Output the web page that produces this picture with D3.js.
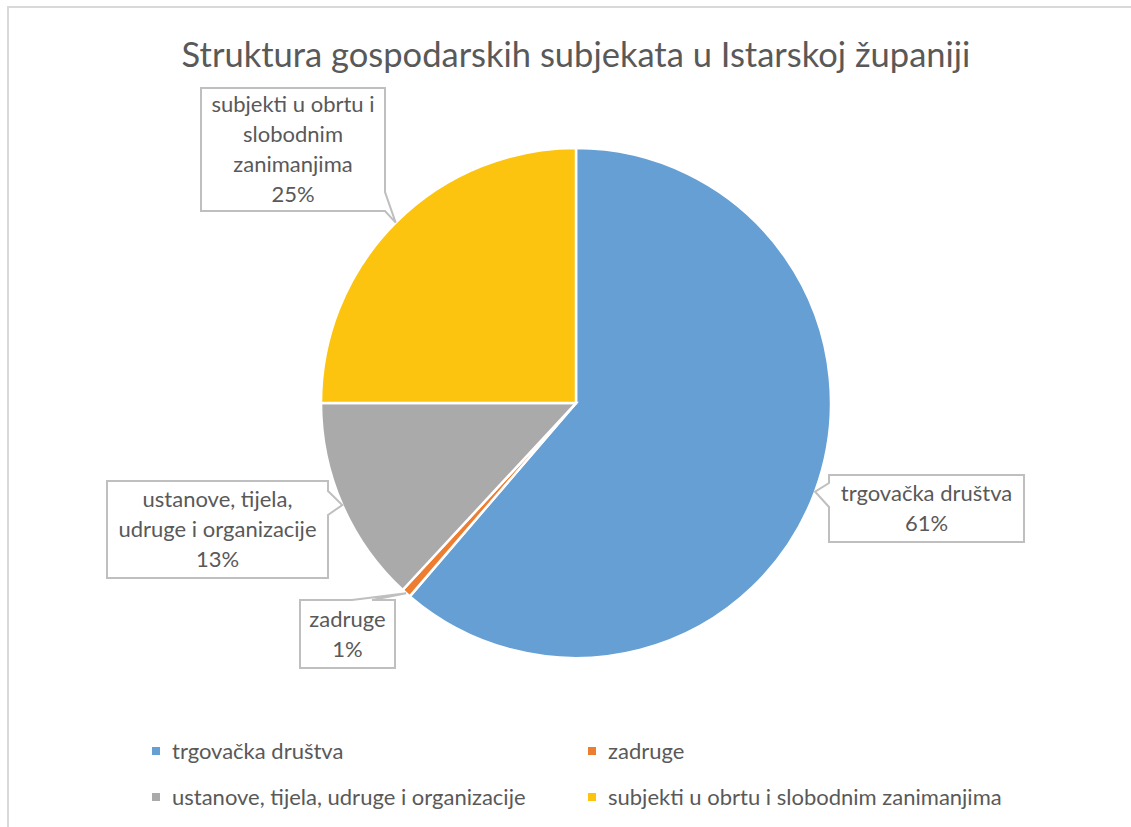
<!DOCTYPE html>
<html>
<head>
<meta charset="utf-8">
<script src="https://cdn.jsdelivr.net/npm/d3@7"></script>
<style>
  body { margin: 0; background: #fff; }
  svg text { font-family: Lato, "Open Sans", sans-serif; fill: #595959; }
</style>
</head>
<body>
<div id="chart"></div>
<script>
var categories = ['trgovačka društva', 'zadruge', 'ustanove, tijela, udruge i organizacije', 'subjekti u obrtu i slobodnim zanimanjima']
var shares = [61.3, 0.6, 13.1, 25.0]
var colors = ['#659fd4', '#ed7d31', '#a9aaa9', '#fcc30f']
var labelLines = [
  ['trgovačka društva'],
  ['zadruge'],
  ['ustanove, tijela,', 'udruge i organizacije'],
  ['subjekti u obrtu i', 'slobodnim', 'zanimanjima']
]
var title = 'Struktura gospodarskih subjekata u Istarskoj županiji'

var width = 1131, height = 827
var cx = 576, cy = 403, r = 255

// callout boxes, drawn where excel put them
var boxes = [
  {x: 829, y: 475, w: 195, h: 67, side: 'left', a: 483, b: 507},
  {x: 300, y: 600, w: 95, h: 68, side: 'top', a: 352, b: 372},
  {x: 107, y: 481, w: 221, h: 97, side: 'right', a: 491, b: 515},
  {x: 201, y: 88, w: 184, h: 123, side: 'right', a: 192, b: 211}
]

var data = categories.map(function(c, i) {
  return {name: c, value: shares[i], color: colors[i], lines: labelLines[i], box: boxes[i]}
})

var svg = d3.select('#chart').append('svg').attr('width', width).attr('height', height)

// frame
svg.append('path').attr('d', 'M8,' + height + 'V7H' + width)
  .attr('fill', 'none').attr('stroke', '#d9d9d9').attr('stroke-width', 2)

svg.append('text').attr('x', cx).attr('y', 67).attr('text-anchor', 'middle')
  .attr('font-size', 34.5).text(title)

var pie = d3.pie().sort(null).value(function(d) { return d.value })
var arc = d3.arc().innerRadius(0).outerRadius(r)
var edge = d3.arc().innerRadius(r).outerRadius(r)
var arcs = pie(data)

var g = svg.append('g').attr('transform', 'translate(' + cx + ',' + cy + ')')
g.selectAll('path').data(arcs).join('path')
  .attr('d', arc)
  .attr('fill', function(d) { return d.data.color })
  .attr('stroke', '#fff').attr('stroke-width', 2.5)

// callouts
var fmt = d3.format('.0f')
var calls = svg.append('g').selectAll('g').data(arcs).join('g')

calls.append('path')
  .attr('fill', '#fff').attr('stroke', '#bfbfbf').attr('stroke-width', 2)
  .attr('d', function(d) {
    var b = d.data.box
    var c = edge.centroid(d)
    var tx = cx + c[0], ty = cy + c[1]
    var x0 = b.x, y0 = b.y, x1 = b.x + b.w, y1 = b.y + b.h
    var p = d3.path()
    p.moveTo(x0, y0)
    if (b.side == 'top') { p.lineTo(b.a, y0); p.lineTo(tx, ty); p.lineTo(b.b, y0) }
    p.lineTo(x1, y0)
    if (b.side == 'right') { p.lineTo(x1, b.a); p.lineTo(tx, ty); p.lineTo(x1, b.b) }
    p.lineTo(x1, y1)
    p.lineTo(x0, y1)
    if (b.side == 'left') { p.lineTo(x0, b.b); p.lineTo(tx, ty); p.lineTo(x0, b.a) }
    p.closePath()
    return p.toString()
  })

calls.each(function(d) {
  var b = d.data.box
  var lines = d.data.lines.concat([fmt(d.data.value) + '%'])
  var lh = 30
  var top = b.y + b.h / 2 - (lines.length - 1) * lh / 2
  d3.select(this).selectAll('text').data(lines).join('text')
    .attr('x', b.x + b.w / 2)
    .attr('y', function(t, i) { return top + i * lh })
    .attr('dy', '0.35em')
    .attr('text-anchor', 'middle')
    .attr('font-size', 22)
    .text(function(t) { return t })
})

// legend
var legX = d3.scaleOrdinal().domain([0, 1]).range([152, 588])
var legY = d3.scaleOrdinal().domain([0, 1]).range([751, 797])
var leg = svg.append('g').selectAll('g').data(data).join('g')
  .attr('transform', function(d, i) { return 'translate(' + legX(i % 2) + ',' + legY(Math.floor(i / 2)) + ')' })
leg.append('rect').attr('x', 0).attr('y', -4).attr('width', 8).attr('height', 8)
  .attr('fill', function(d) { return d.color })
leg.append('text').attr('x', 20).attr('dy', '0.35em').attr('font-size', 22)
  .text(function(d) { return d.name })
</script>
</body>
</html>
